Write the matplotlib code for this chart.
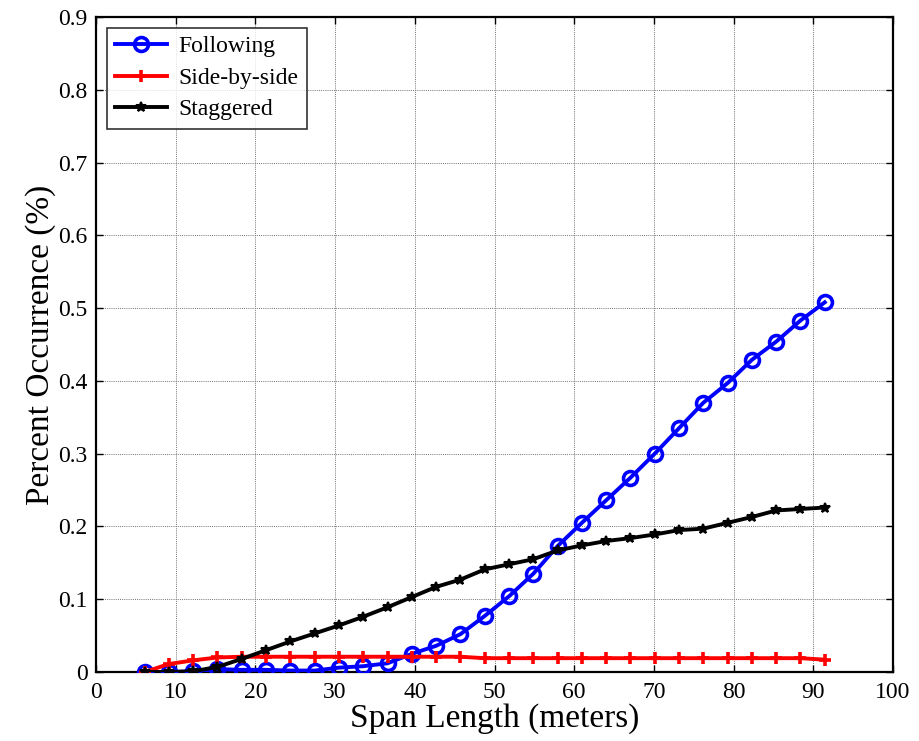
import numpy as np
import matplotlib.pyplot as plt

plt.rcParams.update({"font.family": ["Liberation Serif", "DejaVu Serif"]})

# span lengths: 20 ft to 300 ft in 10 ft steps, in meters
span_ft = np.arange(20, 301, 10)
span_m = span_ft * 0.3048

following = [0.000, 0.000, 0.001, 0.004, 0.003, 0.003, 0.002, 0.002, 0.006, 0.008,
             0.012, 0.025, 0.036, 0.052, 0.077, 0.104, 0.135, 0.173, 0.205, 0.236,
             0.267, 0.300, 0.335, 0.370, 0.397, 0.429, 0.454, 0.483, 0.508]
side_by_side = [0.000, 0.011, 0.016, 0.020, 0.021, 0.021, 0.021, 0.021, 0.021, 0.021,
                0.021, 0.021, 0.021, 0.021, 0.019, 0.019, 0.019, 0.019, 0.019, 0.019,
                0.019, 0.019, 0.019, 0.019, 0.019, 0.019, 0.019, 0.019, 0.017]
staggered = [0.000, 0.000, 0.001, 0.007, 0.018, 0.030, 0.042, 0.053, 0.064, 0.076,
             0.089, 0.103, 0.117, 0.127, 0.141, 0.148, 0.155, 0.167, 0.174, 0.180,
             0.184, 0.189, 0.195, 0.197, 0.205, 0.213, 0.222, 0.224, 0.226]

fig = plt.figure(figsize=(9.19, 7.41), dpi=100)
ax = fig.add_axes([0.1045, 0.0931, 0.8672, 0.8839])

ax.plot(span_m, following, "-o", color="blue", lw=2.8, ms=10, mfc="none", mew=2.6,
        label="Following", zorder=3)
ax.plot(span_m, side_by_side, "-+", color="red", lw=2.8, ms=9, mew=2.6,
        label="Side-by-side", zorder=3)
ax.plot(span_m, staggered, "-*", color="black", lw=2.8, ms=7, mew=1.5,
        label="Staggered", zorder=4)

ax.set_xlim(0, 100)
ax.set_ylim(0, 0.9)
ax.set_xticks(np.arange(0, 101, 10))
ax.set_yticks(np.arange(0, 0.91, 0.1))
ax.set_yticklabels(["0"] + [f"{v:.1f}" for v in np.arange(0.1, 0.91, 0.1)])
ax.grid(True, color="0.45", ls=(0, (1, 1.2)), lw=0.7)
ax.tick_params(direction="in", top=True, right=True, labelsize=17, length=5, width=1)
ax.tick_params(axis="x", pad=7)
ax.tick_params(axis="y", pad=6)
for s in ax.spines.values():
    s.set_linewidth(1.6)

ax.set_xlabel("Span Length (meters)", fontsize=24, labelpad=0)
ax.set_ylabel("Percent Occurrence (%)", fontsize=24, labelpad=2)

leg = ax.legend(loc="upper left", fontsize=17, frameon=True, fancybox=False,
                edgecolor="black", handlelength=2.2, borderpad=0.35, labelspacing=0.42,
                handletextpad=0.5, borderaxespad=0.45)
leg.get_frame().set_linewidth(1.2)

fig.savefig("out.png", dpi=100, facecolor="white")
